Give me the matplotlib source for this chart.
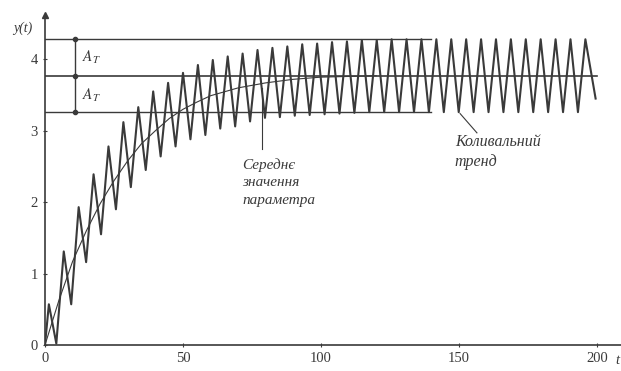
import matplotlib
matplotlib.use("Agg")
import matplotlib.pyplot as plt
import numpy as np

# вершини коливань (t, y)
peak_t = [1.4, 6.8, 12.2, 17.6, 23.0, 28.4, 33.8, 39.2, 44.6, 50.0, 55.4, 60.8,
          66.2, 71.6, 77.0, 82.4, 87.8, 93.2, 98.6, 104.0, 109.4, 114.8, 120.2,
          125.6, 131.0, 136.4, 141.8, 147.2, 152.6, 158.0, 163.4, 168.8, 174.2,
          179.6, 185.0, 190.4, 195.8]
peak_y = [0.57, 1.31, 1.93, 2.39, 2.78, 3.12, 3.33, 3.55, 3.67, 3.81, 3.92, 3.99,
          4.04, 4.08, 4.13, 4.16, 4.18, 4.21, 4.22, 4.24, 4.25, 4.27, 4.27,
          4.28, 4.28, 4.28, 4.28, 4.28, 4.28, 4.28, 4.28, 4.28, 4.28,
          4.28, 4.28, 4.28, 4.28]
# впадини
trough_t = [4.1, 9.5, 14.9, 20.3, 25.7, 31.1, 36.5, 41.9, 47.3, 52.7, 58.1, 63.5,
            68.9, 74.3, 79.7, 85.1, 90.5, 95.9, 101.3, 106.7, 112.1, 117.5, 122.9,
            128.3, 133.7, 139.1, 144.5, 149.9, 155.3, 160.7, 166.1, 171.5, 176.9,
            182.3, 187.7, 193.1]
trough_y = [0.02, 0.57, 1.16, 1.55, 1.90, 2.21, 2.45, 2.64, 2.78, 2.88, 2.94, 3.03,
            3.06, 3.13, 3.18, 3.19, 3.21, 3.22, 3.23, 3.24, 3.25, 3.26, 3.26,
            3.26, 3.26, 3.26, 3.26, 3.26, 3.26, 3.26, 3.26, 3.26, 3.26,
            3.26, 3.26, 3.26]
start_pt = (0.0, 0.0)
end_pt = (199.5, 3.45)

# середнє значення параметра
mean_t = [0, 5, 10, 15, 20, 25, 30, 35, 40, 45, 50, 55, 60, 70, 80, 90, 100, 120]
mean_y = [0.0, 0.62, 1.17, 1.6, 1.98, 2.3, 2.58, 2.82, 3.0, 3.17, 3.3, 3.4, 3.49,
          3.6, 3.67, 3.72, 3.75, 3.77]

level_top = 4.28
level_mid = 3.77
level_low = 3.26

x_ticks = [0, 50, 100, 150, 200]
y_ticks = [0, 1, 2, 3, 4]

# збираємо ламану: старт, вершина, впадина, ...
sig_t = [start_pt[0]]
sig_y = [start_pt[1]]
for i in range(len(peak_t)):
    sig_t.append(peak_t[i]); sig_y.append(peak_y[i])
    if i < len(trough_t):
        sig_t.append(trough_t[i]); sig_y.append(trough_y[i])
sig_t.append(end_pt[0]); sig_y.append(end_pt[1])

plt.rcParams['font.family'] = ['Liberation Serif', 'DejaVu Serif']
plt.rcParams['mathtext.fontset'] = 'stix'
col = '#3a3a3a'

fig = plt.figure(figsize=(6.21, 3.71), dpi=100)
ax = fig.add_axes([45 / 621, 26 / 371, 576 / 621, 330 / 371])
ax.set_xlim(0, 208.7)
ax.set_ylim(0, 4.62)

# горизонтальні рівні
ax.plot([0, 140], [level_top, level_top], color=col, lw=1.0)
ax.plot([0, 140], [level_low, level_low], color=col, lw=1.0)
ax.plot([0, 200], [level_mid, level_mid], color=col, lw=1.2)

# сигнал і середнє
ax.plot(sig_t, sig_y, color=col, lw=1.5, solid_joinstyle='round')
ax.plot(mean_t, mean_y, color=col, lw=0.8)

# амплітуда
ax.plot([10.9, 10.9], [level_low, level_top], color=col, lw=1.0)
ax.plot([10.9, 10.9, 10.9], [level_low, level_mid, level_top], 'o', color=col, ms=3)
ax.text(13.5, 4.03, r'$A_T$', fontsize=11, color=col, va='center')
ax.text(13.5, 3.5, r'$A_T$', fontsize=11, color=col, va='center')

# вказівники
ax.plot([78.6, 78.6], [2.75, 3.6], color=col, lw=0.8)
ax.plot([156.5, 150.4], [2.97, 3.24], color=col, lw=0.8)
ax.text(71.5, 2.62, 'Середнє\nзначення\nпараметра', fontsize=11, style='italic',
        color=col, va='top', ha='left', linespacing=1.45)
ax.text(148.5, 2.95, 'Коливальний\nтренд', fontsize=11.5, style='italic',
        color=col, va='top', ha='left', linespacing=1.35)

# осі
for s in ['top', 'right']:
    ax.spines[s].set_visible(False)
for s in ['left', 'bottom']:
    ax.spines[s].set_color(col)
    ax.spines[s].set_linewidth(1.2)
ax.plot(0, 4.62, marker='^', color=col, ms=4, clip_on=False)
ax.set_xticks(x_ticks)
ax.set_yticks(y_ticks)
ax.tick_params(colors=col, labelsize=10.5, length=3, direction='inout')
ax.text(-8, 4.38, 'y(t)', fontsize=10, style='italic', color=col, ha='center')
ax.text(207.5, -0.26, 't', fontsize=10.5, style='italic', color=col, ha='center')

fig.savefig('out.png', dpi=100)
